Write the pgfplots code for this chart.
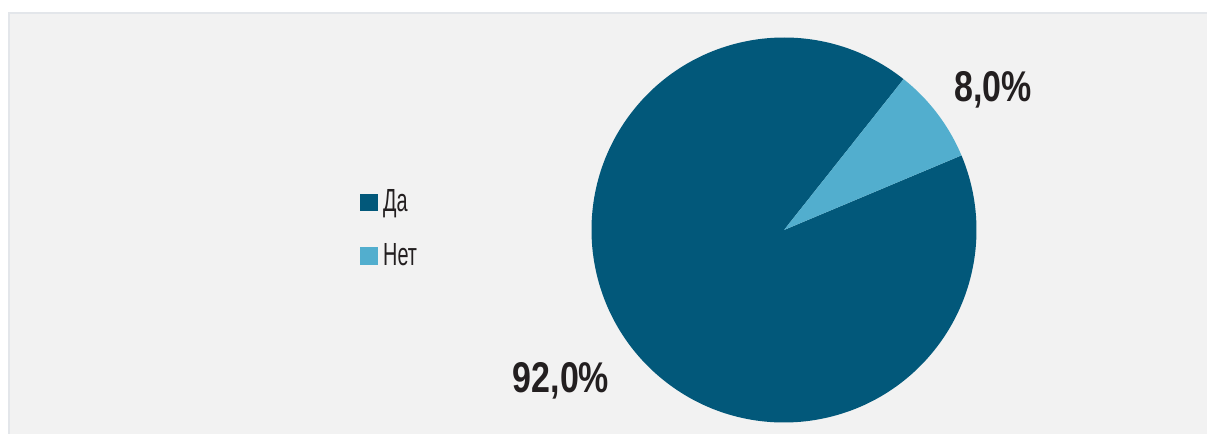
\documentclass[border=0pt]{standalone}
\usepackage{pgfplots}
\usepackage{pgfplotstable}
\pgfplotsset{compat=1.18}
\usepackage{fontspec}
\setmainfont{Liberation Sans}
\newfontfamily\labfont{Liberation Sans}[FakeStretch=0.79]
\newfontfamily\legfont{Liberation Sans}[FakeStretch=0.62]
\definecolor{da}{HTML}{02587A}
\definecolor{net}{HTML}{52AECE}
\definecolor{bg}{HTML}{F2F2F2}
\definecolor{bord}{HTML}{E3E6EA}
\definecolor{txt}{HTML}{231F20}

\pgfplotstableread{
label value
Da 92
Net 8
}\piedata

\pgfplotstablegetelem{0}{value}\of\piedata \let\vDa\pgfplotsretval
\pgfplotstablegetelem{1}{value}\of\piedata \let\vNet\pgfplotsretval
\pgfmathsetmacro{\startA}{51.6}
\pgfmathsetmacro{\dA}{3.6*\vDa}
\pgfmathsetmacro{\startB}{\startA+\dA}
\pgfmathsetmacro{\dB}{3.6*\vNet}

\begin{document}
\begin{tikzpicture}
\begin{axis}[
  x=0.5pt, y=0.5pt,
  xmin=0, xmax=1207, ymin=0, ymax=434,
  hide axis,
  clip=true,
  legend style={at={(axis cs:354,205)}, anchor=west, draw=none, fill=none,
    font=\legfont\fontsize{16}{16}\selectfont\color{txt},
    row sep=10pt,
    /tikz/every odd column/.append style={column sep=0pt},
    nodes={inner xsep=2.6pt}},
  legend cell align=left,
  legend image code/.code={\fill[#1] (0pt,-4.2pt) rectangle (8.4pt,4.2pt);},
]
\fill[white] (axis cs:0,0) rectangle (axis cs:1207,434);
\draw[bord, line width=1pt, fill=bg] (axis cs:9,-20) rectangle (axis cs:1230,421);

\fill[da] (axis cs:784,204) -- ++(\startA:96.25pt) arc[start angle=\startA, delta angle=\dA, radius=96.25pt] -- cycle;
\fill[net] (axis cs:784,204) -- ++(\startB:96.25pt) arc[start angle=\startB, delta angle=\dB, radius=96.25pt] -- cycle;

\node[anchor=base, font=\labfont\bfseries\fontsize{21.5}{22}\selectfont, text=txt, inner sep=0pt] at (axis cs:993,332) {8,0\%};
\node[anchor=base, font=\labfont\bfseries\fontsize{21.5}{22}\selectfont, text=txt, inner sep=0pt] at (axis cs:561,41) {92,0\%};

\addlegendimage{da}
\addlegendentry{Да}
\addlegendimage{net}
\addlegendentry{Нет}
\end{axis}
\end{tikzpicture}
\end{document}
